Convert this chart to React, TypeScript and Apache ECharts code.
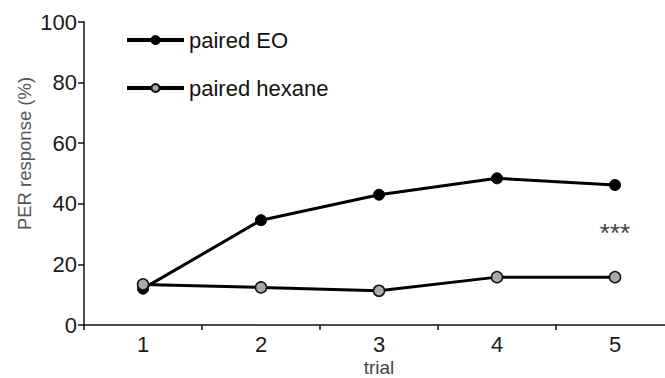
import React, { useEffect, useRef } from "react";
import * as echarts from "echarts";

const trials = ["1", "2", "3", "4", "5"];
const pairedEO = [12, 34.6, 43, 48.4, 46.2];
const pairedHexane = [13.4, 12.4, 11.3, 15.8, 15.8];
const yTicks = [0, 20, 40, 60, 80, 100];
const significance = { trial: "5", y: 30.5, label: "***" };

const FONT = "'Liberation Sans', Arial, sans-serif";

export default function App() {
  const ref = useRef<HTMLDivElement>(null);
  useEffect(() => {
    document.body.style.margin = "0";
    const chart = echarts.init(ref.current!, null, { renderer: "svg" });
    chart.setOption({
      animation: false,
      backgroundColor: "#ffffff",
      textStyle: { fontFamily: FONT },
      grid: { left: 84, top: 22, width: 590, height: 303, containLabel: false, outerBoundsMode: "none" },
      legend: {
        orient: "vertical",
        left: 125,
        top: 29,
        padding: 0,
        itemWidth: 57,
        itemHeight: 10,
        itemGap: 26,
        lineStyle: { width: 4 },
        textStyle: { fontSize: 22, color: "#111", fontFamily: FONT },
        data: ["paired EO", "paired hexane"],
      },
      xAxis: {
        type: "category",
        data: trials,
        boundaryGap: true,
        name: "trial",
        nameLocation: "middle",
        nameGap: 33,
        nameMoveOverlap: false,
        nameTextStyle: { fontSize: 19, color: "#444", fontFamily: FONT },
        axisLine: { lineStyle: { color: "#111", width: 1.5 } },
        axisTick: { show: true, length: 5, inside: false, alignWithLabel: false, lineStyle: { color: "#111", width: 1.5 } },
        axisLabel: { fontSize: 22, color: "#1a1a1a", margin: 8, fontFamily: FONT },
        splitLine: { show: false },
      },
      yAxis: {
        type: "value",
        min: yTicks[0],
        max: yTicks[yTicks.length - 1],
        interval: 20,
        name: "PER response (%)",
        nameLocation: "middle",
        nameGap: 50,
        nameRotate: 90,
        nameMoveOverlap: false,
        nameTextStyle: { fontSize: 18.5, color: "#555555", fontFamily: FONT, padding: [0, 0, 0, 40] },
        axisLine: { show: true, lineStyle: { color: "#111", width: 1.5 } },
        axisTick: { show: true, length: 6, lineStyle: { color: "#111", width: 1.5 } },
        axisLabel: { fontSize: 22, color: "#1a1a1a", margin: 7, fontFamily: FONT },
        splitLine: { show: false },
      },
      series: [
        {
          name: "paired hexane",
          type: "line",
          data: pairedHexane,
          symbol: "circle",
          symbolSize: 11,
          lineStyle: { color: "#000", width: 3 },
          itemStyle: { color: "#aaaaaa", borderColor: "#111", borderWidth: 1.5 },
          z: 2,
        },
        {
          name: "paired EO",
          type: "line",
          data: pairedEO,
          symbol: "circle",
          symbolSize: 11,
          lineStyle: { color: "#000", width: 3 },
          itemStyle: { color: "#000", borderColor: "#000", borderWidth: 1 },
          z: 1,
          markPoint: {
            symbol: "circle",
            symbolSize: 1,
            itemStyle: { color: "transparent" },
            label: {
              show: true,
              formatter: significance.label,
              fontSize: 26,
              color: "#444",
              fontFamily: FONT,
              position: "inside",
            },
            data: [{ coord: [significance.trial, significance.y] }],
          },
        },
      ],
    });
    return () => chart.dispose();
  }, []);
  return <div ref={ref} style={{ width: 665, height: 378 }} />;
}
